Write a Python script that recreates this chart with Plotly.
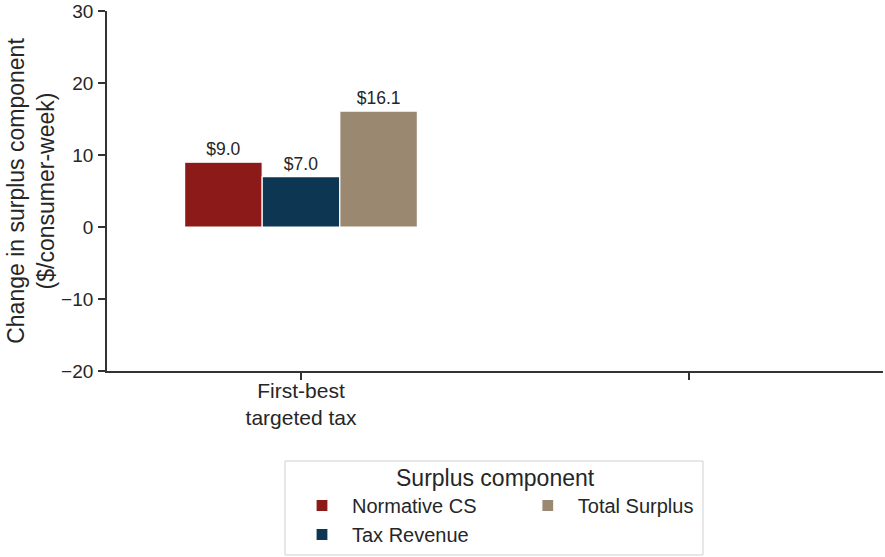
import plotly.graph_objects as go

# Policy scenarios on the x axis (second slot intentionally left blank)
categories = ["First-best<br>targeted tax", ""]

# Change in each surplus component, $/consumer-week
normative_cs = [9.0, None]
tax_revenue = [7.0, None]
total_surplus = [16.1, None]

series_names = ["Normative CS", "Tax Revenue", "Total Surplus"]
series_values = [normative_cs, tax_revenue, total_surplus]
series_colors = ["#8C1A19", "#0D3652", "#9A8871"]
series_offsets = [-0.3, -0.1, 0.1]
series_legends = ["legend", "legend", "legend2"]

y_ticks = [-20, -10, 0, 10, 20, 30]

FONT = "Liberation Sans, Arial, sans-serif"
INK = "#262626"

x_pos = list(range(len(categories)))

fig = go.Figure()
for name, vals, color, off, leg in zip(series_names, series_values, series_colors,
                                       series_offsets, series_legends):
    fig.add_trace(go.Bar(
        x=x_pos,
        y=vals,
        name=name,
        width=0.2,
        offset=off,
        marker=dict(color=color, line=dict(color="white", width=1.2)),
        text=[None if v is None else f"${v:.1f}" for v in vals],
        textposition="outside",
        textfont=dict(family=FONT, size=17.5, color=INK),
        cliponaxis=False,
        legend=leg,
    ))

fig.update_layout(
    width=885,
    height=557,
    margin=dict(l=107, r=2, t=11, b=186),
    paper_bgcolor="white",
    plot_bgcolor="white",
    barmode="overlay",
    font=dict(family=FONT, color=INK),
    xaxis=dict(
        range=[-0.5, 1.5],
        tickvals=x_pos,
        ticktext=categories,
        showline=True,
        linecolor="#333333",
        linewidth=1.8,
        ticks="outside",
        ticklen=7,
        tickwidth=1.8,
        tickcolor="#333333",
        showgrid=False,
        zeroline=False,
        ticklabelstandoff=-7,
        tickfont=dict(family=FONT, size=21, color=INK),
    ),
    yaxis=dict(
        range=[-20, 30],
        tickvals=y_ticks,
        showline=True,
        linecolor="#333333",
        linewidth=1.8,
        ticks="outside",
        ticklen=7,
        tickwidth=1.8,
        tickcolor="#333333",
        showgrid=False,
        zeroline=False,
        ticklabelstandoff=1,
        tickfont=dict(family=FONT, size=19, color=INK),
        title=dict(
            text="Change in surplus component<br>($/consumer-week)",
            font=dict(family=FONT, size=23, color=INK),
            standoff=0,
        ),
    ),
    legend=dict(
        orientation="v",
        x=0.2384, xanchor="left",
        y=-0.3194, yanchor="top",
        bgcolor="rgba(0,0,0,0)",
        borderwidth=0,
        itemwidth=50,
        font=dict(family=FONT, size=20, color=INK),
        traceorder="normal",
    ),
    legend2=dict(
        orientation="v",
        x=0.5294, xanchor="left",
        y=-0.3194, yanchor="top",
        bgcolor="rgba(0,0,0,0)",
        borderwidth=0,
        itemwidth=50,
        font=dict(family=FONT, size=20, color=INK),
    ),
    showlegend=True,
)

# Frame and heading shared by both legend columns
fig.add_shape(
    type="rect", xref="paper", yref="paper",
    x0=0.2294, x1=0.768, y0=-0.25, y1=-0.511,
    line=dict(color="#cfcfcf", width=1), fillcolor="white", layer="below",
)
fig.add_annotation(
    text="Surplus component", xref="paper", yref="paper",
    x=0.501, y=-0.297, xanchor="center", yanchor="middle",
    showarrow=False, font=dict(family=FONT, size=23, color=INK),
)

fig.write_html("out.html")
